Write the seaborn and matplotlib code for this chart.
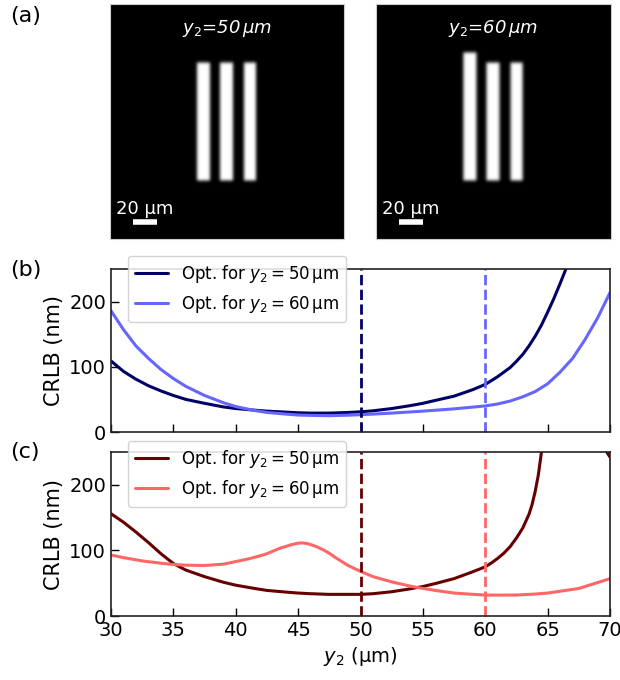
import numpy as np
import pandas as pd
import matplotlib
matplotlib.use("Agg")
import matplotlib.pyplot as plt
import seaborn as sns

# -------------------------------
# Data
# -------------------------------
# panel (a): three bars in a 195 um field
field_um = 195
bar_cx = [78, 97, 116.7]
bar_w = 10.5
bar_bottom = 146.7
bar_top_50 = [49.2, 49.2, 49.2]
bar_top_60 = [40.8, 49.2, 49.2]

# panel (b)
b_x_50 = [30, 31, 32, 33, 34, 35, 36, 37.5, 39, 40, 41.5, 42.5, 44, 45, 46,
          47.5, 49, 50, 51, 52.5, 54, 55, 56, 57.5, 59, 60, 61, 62, 62.5, 63,
          63.5, 64, 64.5, 65, 65.5, 66, 66.5, 67]
b_y_50 = [109, 93, 81, 71, 63, 56, 50, 44, 38.5, 36, 33.5, 32, 30.5, 29.5, 29,
          29, 30, 31, 32.5, 36, 40.5, 44, 48.5, 55, 65, 73, 85, 99, 108.5, 119,
          132, 147, 164, 184, 205, 228, 252, 280]
b_x_60 = [30, 31, 32, 33, 34, 35, 36, 37.5, 39, 40, 41.5, 42.5, 44, 45, 46,
          47.5, 49, 50, 52.5, 55, 57.5, 60, 61, 62, 63, 64, 65, 66, 67, 68, 69,
          70]
b_y_60 = [186, 157, 132, 113, 96, 82, 70, 56, 45, 39, 33, 30, 27.5, 26, 25.5,
          25, 25.8, 26.5, 29, 32, 35.5, 40, 43, 47.5, 54, 62, 74, 92, 113, 142,
          175, 214]

# panel (c)
c_x_50 = [30, 31, 32, 33, 34, 35, 36, 37.5, 39, 40, 41.5, 42.5, 44, 45, 46,
          47.5, 49, 50, 51, 52.5, 54, 55, 56, 57.5, 59, 60, 60.5, 61, 61.5, 62,
          62.5, 63, 63.5, 63.75, 64, 64.25, 64.5, 64.75, 65, 69, 69.5, 70]
c_y_50 = [156, 143, 128, 112, 95, 80, 70, 60, 51.5, 47, 42, 39, 36.5, 35, 34,
          33, 33, 33, 34, 37, 41.5, 45, 49.5, 57, 67.5, 75, 81, 88, 96, 106,
          119, 134, 155, 170, 190, 215, 250, 290, 320, 300, 257, 242]
c_x_60 = [30, 31, 32.5, 34, 35, 36, 37.5, 39, 40, 41, 42, 42.5, 43, 43.5, 44,
          44.5, 45, 45.3, 45.7, 46, 46.5, 47, 47.5, 48, 48.5, 49, 50, 51, 52.5,
          54, 55, 56, 57.5, 59, 60, 61, 62.5, 64, 65, 67.5, 70]
c_y_60 = [93, 89, 84, 80.5, 78.5, 77.5, 77, 79, 83, 87, 92, 95, 99, 103, 106,
          109, 111, 111.5, 110.5, 109, 105.5, 101, 95.5, 89, 83, 77, 68, 60, 52,
          45.5, 42, 39, 35, 33, 32, 31.8, 32, 33.5, 35, 42, 57]

lab_50 = r'Opt. for $y_2 = 50\,$μm'
lab_60 = r'Opt. for $y_2 = 60\,$μm'

blue_dark, blue_light = '#000066', '#6666ff'
red_dark, red_light = '#660000', '#ff6666'

sns.set_style("white")
plt.rcParams['font.family'] = ['DejaVu Sans']
plt.rcParams['mathtext.fontset'] = 'dejavusans'
plt.rcParams.update({'text.color': 'black', 'axes.labelcolor': 'black',
                     'xtick.color': 'black', 'ytick.color': 'black'})

fig = plt.figure(figsize=(6.2, 6.8), dpi=100)


# -------------------------------
# (a) bar images
# -------------------------------
def bar_image(tops):
    n = 234
    c = (np.arange(n) + 0.5) * field_um / n
    X, Y = np.meshgrid(c, c)
    img = np.zeros((n, n))
    for cx, top in zip(bar_cx, tops):
        img[(np.abs(X - cx) < bar_w / 2) & (Y > top) & (Y < bar_bottom)] = 1.0
    k = np.exp(-0.5 * (np.arange(-6, 7) / 1.6) ** 2)
    k /= k.sum()
    img = np.apply_along_axis(lambda r: np.convolve(r, k, mode='same'), 1, img)
    img = np.apply_along_axis(lambda r: np.convolve(r, k, mode='same'), 0, img)
    return img


for rect, tops, title in [([0.1774, 0.6485, 0.3774, 0.3456], bar_top_50, '50'),
                          ([0.6065, 0.6485, 0.379, 0.3456], bar_top_60, '60')]:
    ax = fig.add_axes(rect)
    ax.imshow(bar_image(tops), cmap='gray', vmin=0, vmax=1, aspect='auto',
              extent=[0, field_um, field_um, 0], interpolation='bilinear')
    ax.set_xticks([])
    ax.set_yticks([])
    for s in ax.spines.values():
        s.set_color('#cccccc')
        s.set_linewidth(0.8)
    ax.text(field_um / 2, 20, r'$y_2$=' + title + r'$\,$μm', color='white',
            style='italic', fontsize=13, ha='center', va='center')
    ax.plot([19, 39], [181, 181], color='white', lw=4, solid_capstyle='butt')
    ax.text(28.8, 174, '20 μm', color='white', fontsize=13, ha='center',
            va='baseline')


# -------------------------------
# (b), (c) CRLB curves
# -------------------------------
def crlb_panel(rect, x50, y50, x60, y60, dark, light, xlabels, leg_y):
    ax = fig.add_axes(rect)
    df = pd.concat([
        pd.DataFrame({'y2': x50, 'crlb': y50, 'opt': lab_50}),
        pd.DataFrame({'y2': x60, 'crlb': y60, 'opt': lab_60}),
    ])
    sns.lineplot(data=df, x='y2', y='crlb', hue='opt', estimator=None,
                 palette={lab_50: dark, lab_60: light}, lw=2.2, ax=ax,
                 solid_joinstyle='round')
    ax.axvline(50, color=dark, ls='--', lw=2)
    ax.axvline(60, color=light, ls='--', lw=2)
    ax.set_xlim(30, 70)
    ax.set_ylim(0, 250)
    ax.set_xticks(range(30, 71, 5))
    ax.set_yticks([0, 100, 200])
    ax.tick_params(direction='in', length=6, width=1, labelsize=14,
                   bottom=True, left=True)
    if not xlabels:
        ax.set_xticklabels([])
        ax.set_xlabel('')
    else:
        ax.set_xlabel(r'$y_2$ (μm)', fontsize=14)
    ax.set_ylabel('CRLB (nm)', fontsize=15)
    for s in ax.spines.values():
        s.set_color('#222222')
        s.set_linewidth(1.2)
    ax.legend(loc='upper left', bbox_to_anchor=(0.034, leg_y), fontsize=12,
              framealpha=0.85, borderaxespad=0, title=None)
    return ax


crlb_panel([0.179, 0.3647, 0.805, 0.2397], b_x_50, b_y_50, b_x_60, b_y_60,
           blue_dark, blue_light, False, 1.08)
crlb_panel([0.179, 0.0941, 0.805, 0.2412], c_x_50, c_y_50, c_x_60, c_y_60,
           red_dark, red_light, True, 1.067)

fig.text(0.016, 0.976, '(a)', fontsize=16, va='center')
fig.text(0.016, 0.603, '(b)', fontsize=16, va='center')
fig.text(0.016, 0.335, '(c)', fontsize=16, va='center')

fig.savefig("out.png", dpi=100)
